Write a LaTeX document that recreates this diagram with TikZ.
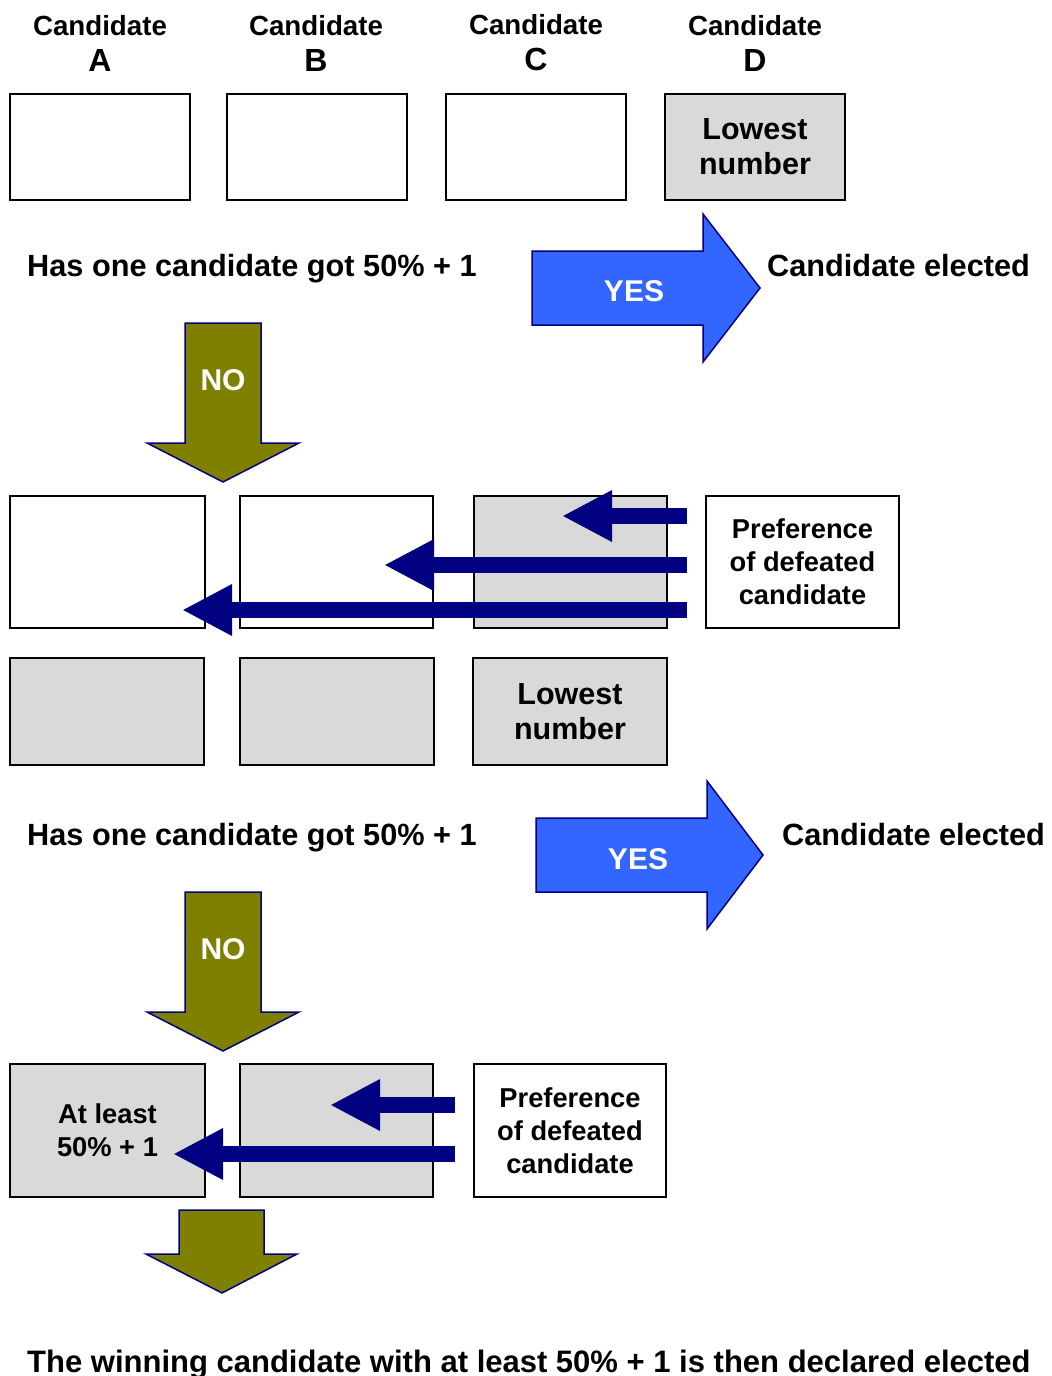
\documentclass[tikz,border=0pt]{standalone}
\usepackage{fontspec}
\setmainfont{Liberation Sans}
\usetikzlibrary{arrows.meta}
\definecolor{boxgray}{HTML}{D9D9D9}
\definecolor{navyc}{HTML}{000080}
\definecolor{yesblue}{HTML}{3366FF}
\definecolor{olivec}{HTML}{808000}
\newcommand{\bigletter}[1]{{\fontsize{32}{36}\selectfont #1}}
\begin{document}
\begin{tikzpicture}[x=1pt,y=-1pt,
  cell/.style={draw=black, line width=1.8pt, inner sep=0pt, fill=white, align=center},
  graycell/.style={cell, fill=boxgray},
  hdr/.style={font=\fontsize{27.7}{36}\selectfont\bfseries, align=center, inner sep=0pt},
  bigtxt/.style={font=\fontsize{30.7}{36}\selectfont\bfseries, inner sep=0pt},
  lowtxt/.style={font=\fontsize{30.5}{35}\selectfont\bfseries},
  preftxt/.style={font=\fontsize{27.3}{33}\selectfont\bfseries},
  yesarrow/.style={draw=navyc, line width=1.5pt, fill=yesblue, line join=miter},
  noarrow/.style={draw=navyc, line width=1.5pt, fill=olivec, line join=miter},
  wlabel/.style={text=white, font=\fontsize{30}{36}\selectfont\bfseries, inner sep=0pt},
  prefarrow/.style={draw=navyc, line width=16pt, line cap=butt, -{Triangle[length=50pt,width=48pt]}}
]
\useasboundingbox (0,0) rectangle (1052,1376);

% headers
\node[hdr] (hA) at (100,43) {Candidate\\\bigletter{A}};
\node[hdr] (hB) at (316,43) {Candidate\\\bigletter{B}};
\node[hdr] (hC) at (536,43) {Candidate\\\bigletter{C}};
\node[hdr] (hD) at (755,43) {Candidate\\\bigletter{D}};

% row 1
\node[cell, minimum width=180pt, minimum height=106pt] (r1a) at (100,147) {};
\node[cell, minimum width=180pt, minimum height=106pt] (r1b) at (317,147) {};
\node[cell, minimum width=180pt, minimum height=106pt] (r1c) at (536,147) {};
\node[graycell, lowtxt, minimum width=180pt, minimum height=106pt] (r1d) at (755,147) {Lowest\\number};

% question 1
\node[bigtxt, anchor=base west] (q1) at (27,276) {Has one candidate got 50\% + 1};
\draw[yesarrow] (532,251) -- (703,251) -- (703,214) -- (760,288) -- (703,362) -- (703,325) -- (532,325) -- cycle;
\node[wlabel] (yes1) at (634,291) {YES};
\node[bigtxt, anchor=base west] (el1) at (767,276) {Candidate elected};
\draw[noarrow] (185,323) -- (261,323) -- (261,443) -- (299,443) -- (223,482) -- (147,443) -- (185,443) -- cycle;
\node[wlabel] (no1) at (223,380) {NO};

% row 2
\node[cell, minimum width=195pt, minimum height=132pt] (r2a) at (107.5,562) {};
\node[cell, minimum width=193pt, minimum height=132pt] (r2b) at (336.5,562) {};
\node[graycell, minimum width=193pt, minimum height=132pt] (r2c) at (570.5,562) {};
\node[cell, preftxt, minimum width=193pt, minimum height=132pt] (pref1) at (802.5,562) {Preference\\of defeated\\candidate};
\coordinate (p1s1) at (687,516);
\coordinate (p1s2) at (687,565);
\coordinate (p1s3) at (687,610);
\coordinate (p1t1) at (562,516);
\coordinate (p1t2) at (384,565);
\coordinate (p1t3) at (182,610);
\draw[prefarrow] (p1s1) -- (p1t1);
\draw[prefarrow] (p1s2) -- (p1t2);
\draw[prefarrow] (p1s3) -- (p1t3);

% row 3
\node[graycell, minimum width=194pt, minimum height=107pt] (r3a) at (107,711.5) {};
\node[graycell, minimum width=194pt, minimum height=107pt] (r3b) at (337,711.5) {};
\node[graycell, lowtxt, minimum width=194pt, minimum height=107pt] (r3c) at (570,711.5) {Lowest\\number};

% question 2
\node[bigtxt, anchor=base west] (q2) at (27,845) {Has one candidate got 50\% + 1};
\draw[yesarrow] (536,818) -- (707,818) -- (707,781) -- (763,855) -- (707,929) -- (707,892) -- (536,892) -- cycle;
\node[wlabel] (yes2) at (638,859) {YES};
\node[bigtxt, anchor=base west] (el2) at (782,845) {Candidate elected};
\draw[noarrow] (185,892) -- (261,892) -- (261,1012) -- (299,1012) -- (223,1051) -- (147,1012) -- (185,1012) -- cycle;
\node[wlabel] (no2) at (223,949) {NO};

% row 4
\node[graycell, preftxt, minimum width=195pt, minimum height=133pt] (r4a) at (107.5,1130.5) {At least\\50\% + 1};
\node[graycell, minimum width=193pt, minimum height=133pt] (r4b) at (336.5,1130.5) {};
\node[cell, preftxt, minimum width=192pt, minimum height=133pt] (pref2) at (570,1130.5) {Preference\\of defeated\\candidate};
\coordinate (p2s1) at (455,1105);
\coordinate (p2s2) at (455,1154);
\coordinate (p2t1) at (330,1105);
\coordinate (p2t2) at (173,1154);
\draw[prefarrow] (p2s1) -- (p2t1);
\draw[prefarrow] (p2s2) -- (p2t2);

% final arrow
\draw[noarrow] (179,1210) -- (264,1210) -- (264,1254) -- (297,1254) -- (222,1293) -- (146,1254) -- (179,1254) -- cycle;

\node[bigtxt, font=\fontsize{31}{36}\selectfont\bfseries, anchor=base west] (fin) at (27,1372) {The winning candidate with at least 50\% + 1 is then declared elected};
\end{tikzpicture}
\end{document}
